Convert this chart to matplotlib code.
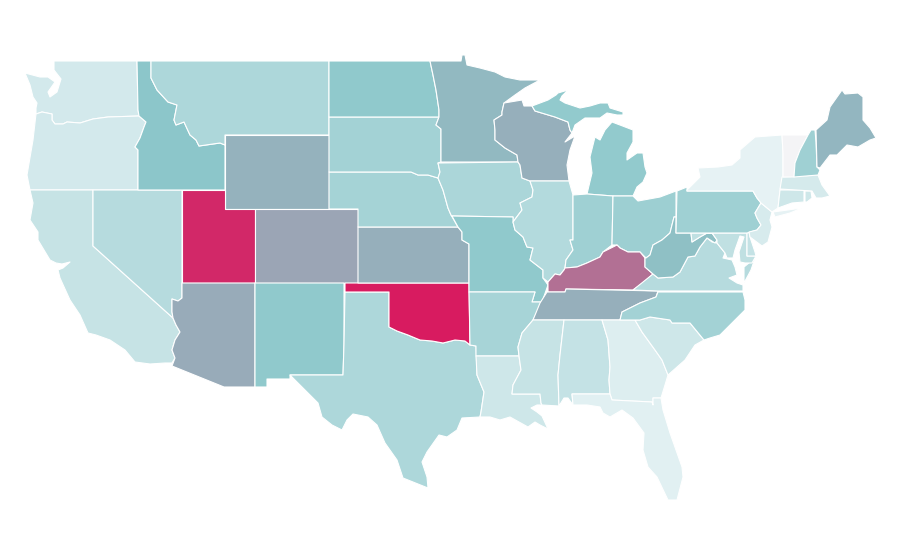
import matplotlib
matplotlib.use('Agg')
import matplotlib.pyplot as plt
from matplotlib.colors import LinearSegmentedColormap, Normalize

# values per state (0-100 scale)
states = ['WA', 'OR', 'CA', 'NV', 'ID', 'MT', 'WY', 'UT', 'CO', 'AZ', 'NM', 'TX', 'OK', 'KS', 'NE', 'SD', 'ND',
          'MN', 'IA', 'MO', 'AR', 'LA', 'WI', 'IL', 'MI', 'IN', 'OH', 'KY', 'TN', 'MS', 'AL', 'GA', 'FL', 'SC',
          'NC', 'VA', 'WV', 'MD', 'DE', 'PA', 'NJ', 'NY', 'CT', 'RI', 'MA', 'VT', 'NH', 'ME']
values = [16, 16, 22, 30, 50, 34, 56, 96, 60, 58, 48, 34, 100, 57, 38, 39, 48,
          54, 35, 48, 37, 18, 57, 31, 47, 41, 42, 75, 57, 22, 23, 11, 9, 18,
          39, 30, 52, 25, 23, 41, 14, 7, 18, 18, 15, 0, 41, 55]

# colour scale: near white through teal to pink
scale_stops = [0, 0.07, 0.5, 1]
scale_colors = ['#f4f4f6', '#e5f2f4', '#8cc7ca', '#d81b60']

# state outlines, in picture pixels
outlines = {
    'WA': [[(54, 61), (137, 61), (138, 110), (139, 116), (108, 117), (93, 119), (80, 123), (67, 122), (63, 124),
            (55, 124), (52, 120), (52, 114), (42, 112), (36, 114), (36, 108), (37, 103), (33, 97), (30, 85), (25, 73),
            (40, 77), (48, 77), (55, 82), (48, 92), (50, 97), (57, 92), (61, 79), (54, 70)]],
    'OR': [[(36, 114), (42, 112), (52, 114), (52, 120), (55, 124), (63, 124), (67, 122), (80, 123), (93, 119),
            (108, 117), (139, 116), (146, 122), (144, 127), (140, 138), (135, 147), (138, 150), (138, 157), (138, 190),
            (30, 190), (27, 175), (33, 140)]],
    'CA': [[(30, 190), (93, 190), (93, 246), (173, 318), (176, 325), (180, 332), (175, 340), (172, 350), (175, 358),
            (172, 363), (165, 363), (150, 364), (135, 362), (125, 350), (110, 340), (96, 335), (88, 333), (80, 315),
            (70, 300), (60, 278), (58, 270), (63, 268), (70, 262), (62, 264), (56, 263), (50, 260), (38, 240), (38, 232),
            (30, 220), (33, 203)]],
    'NV': [[(93, 190), (182, 190), (182, 298), (178, 301), (172, 299), (172, 312), (173, 318), (93, 246)]],
    'ID': [[(137, 61), (151, 61), (151, 78), (157, 90), (168, 102), (177, 105), (174, 120), (176, 125), (184, 122),
            (190, 135), (196, 140), (199, 146), (220, 143), (225, 145), (225, 190), (138, 190), (138, 157), (138, 150),
            (135, 147), (140, 138), (144, 127), (146, 122), (139, 116), (138, 110)]],
    'MT': [[(151, 61), (329, 61), (329, 135), (225, 135), (225, 145), (220, 143), (199, 146), (196, 140), (190, 135),
            (184, 122), (176, 125), (174, 120), (177, 105), (168, 102), (157, 90), (151, 78)]],
    'WY': [[(225, 135), (329, 135), (329, 209), (225, 209)]],
    'UT': [[(182, 190), (225, 190), (225, 209), (255, 209), (255, 283), (182, 283)]],
    'CO': [[(255, 209), (358, 209), (358, 283), (255, 283)]],
    'AZ': [[(182, 283), (255, 283), (255, 387), (224, 387), (172, 366), (175, 358), (172, 350), (175, 340), (180, 332),
            (176, 325), (173, 318), (172, 312), (172, 299), (178, 301), (182, 298)]],
    'NM': [[(255, 283), (344, 283), (344, 344), (343, 375), (290, 375), (290, 379), (267, 379), (267, 387), (255, 387)]],
    'TX': [[(345, 292), (389, 292), (389, 327), (397, 331), (408, 335), (420, 340), (432, 341), (443, 343), (455, 340),
            (465, 341), (470, 345), (476, 346), (477, 375), (484, 392), (481, 412), (480, 417), (462, 418), (457, 430),
            (447, 437), (439, 435), (427, 452), (422, 462), (427, 477), (428, 488), (403, 478), (397, 460), (385, 443),
            (377, 425), (368, 417), (353, 414), (347, 420), (342, 430), (332, 425), (322, 417), (318, 403), (307, 392),
            (295, 380), (290, 375), (343, 375), (344, 344)]],
    'OK': [[(345, 283), (469, 283), (470, 345), (465, 341), (455, 340), (443, 343), (432, 341), (420, 340), (408, 335),
            (397, 331), (389, 327), (389, 292), (345, 292)]],
    'KS': [[(358, 227), (458, 227), (462, 232), (462, 240), (469, 244), (469, 283), (358, 283)]],
    'NE': [[(329, 172), (411, 172), (418, 175), (428, 175), (438, 178), (443, 190), (448, 208), (451, 215), (458, 227),
            (358, 227), (358, 209), (329, 209)]],
    'SD': [[(329, 117), (439, 117), (436, 125), (441, 129), (441, 162), (438, 163), (440, 172), (438, 178), (428, 175),
            (418, 175), (411, 172), (329, 172)]],
    'ND': [[(329, 61), (430, 61), (433, 75), (436, 90), (439, 110), (439, 117), (329, 117)]],
    'MN': [[(430, 61), (461, 61), (462, 55), (465, 55), (467, 65), (480, 68), (495, 72), (505, 77), (520, 80), (540, 80),
            (525, 88), (515, 95), (504, 103), (502, 112), (502, 115), (494, 120), (495, 130), (495, 140), (505, 148),
            (517, 155), (518, 162), (441, 162), (441, 129), (436, 125), (439, 117), (439, 110), (436, 90), (433, 75)]],
    'IA': [[(438, 163), (518, 162), (520, 165), (522, 178), (530, 181), (533, 190), (532, 197), (520, 203), (522, 210),
            (513, 222), (513, 217), (452, 216), (451, 215), (448, 208), (443, 190), (438, 178), (440, 172)]],
    'MO': [[(452, 216), (513, 217), (513, 222), (515, 230), (523, 237), (527, 247), (533, 248), (530, 260), (543, 270),
            (543, 278), (548, 285), (542, 302), (532, 302), (535, 292), (469, 292), (469, 244), (462, 240), (462, 232),
            (458, 227)]],
    'AR': [[(469, 292), (535, 292), (532, 302), (542, 302), (533, 320), (522, 333), (518, 347), (519, 356), (476, 356),
            (476, 346), (470, 345)]],
    'LA': [[(476, 356), (519, 356), (521, 370), (513, 385), (512, 394), (540, 394), (541, 403), (542, 405), (537, 405),
            (531, 408), (537, 412), (542, 416), (548, 429), (540, 425), (535, 422), (528, 427), (510, 417), (500, 420),
            (490, 417), (480, 417), (481, 412), (484, 392), (477, 375)]],
    'WI': [[(504, 103), (522, 100), (524, 106), (532, 106), (535, 111), (555, 117), (568, 122), (570, 130), (572, 133),
            (565, 142), (575, 136), (570, 150), (567, 165), (569, 181), (530, 181), (522, 178), (520, 165), (518, 162),
            (517, 155), (505, 148), (495, 140), (495, 130), (494, 120), (502, 115), (502, 112)]],
    'IL': [[(530, 181), (569, 181), (573, 195), (573, 240), (570, 240), (573, 250), (566, 260), (565, 268), (564, 270),
            (560, 275), (555, 274), (548, 282), (543, 278), (543, 270), (530, 260), (533, 248), (527, 247), (523, 237),
            (515, 230), (513, 222), (522, 210), (520, 203), (532, 197), (533, 190)]],
    'MI': [[(532, 106), (548, 100), (556, 95), (558, 93), (568, 90), (562, 96), (560, 100), (565, 103), (580, 108),
            (590, 106), (600, 103), (608, 103), (610, 108), (623, 112), (623, 115), (617, 115), (607, 113), (600, 118),
            (585, 118), (575, 125), (572, 133), (570, 130), (568, 122), (555, 117), (535, 111)],
           [(600, 140), (605, 130), (612, 122), (620, 125), (633, 130), (633, 142), (627, 153), (627, 160), (637, 153),
            (643, 153), (645, 167), (647, 173), (643, 182), (637, 187), (633, 196), (613, 196), (587, 194), (592, 173),
            (590, 157), (595, 137)]],
    'IN': [[(573, 195), (587, 194), (613, 196), (612, 245), (603, 252), (600, 257), (587, 263), (577, 267), (565, 268),
            (566, 260), (573, 250), (570, 240), (573, 240)]],
    'OH': [[(613, 196), (633, 196), (638, 201), (660, 197), (676, 191), (676, 217), (674, 217), (670, 233), (662, 240),
            (653, 245), (650, 255), (646, 258), (640, 252), (628, 252), (620, 248), (617, 245), (612, 245)]],
    'KY': [[(548, 292), (565, 292), (566, 289), (633, 290), (643, 283), (653, 274), (645, 267), (645, 258), (640, 252),
            (628, 252), (620, 248), (617, 245), (603, 252), (600, 257), (587, 263), (577, 267), (565, 268), (564, 270),
            (560, 275), (555, 274), (548, 282)]],
    'TN': [[(547, 292), (565, 292), (566, 289), (658, 291), (656, 297), (640, 303), (632, 307), (622, 312), (620, 320),
            (533, 320), (540, 303)]],
    'MS': [[(533, 320), (564, 320), (560, 355), (558, 375), (559, 406), (542, 405), (541, 403), (540, 394), (512, 394),
            (513, 385), (521, 370), (519, 356), (518, 347), (522, 333)]],
    'AL': [[(564, 320), (602, 320), (608, 340), (610, 367), (609, 380), (610, 394), (572, 394), (573, 405), (568, 398),
            (564, 398), (559, 406), (558, 375), (560, 355)]],
    'GA': [[(602, 320), (635, 320), (642, 332), (655, 350), (662, 360), (668, 375), (665, 385), (661, 398), (653, 398),
            (653, 405), (652, 402), (612, 400), (610, 394), (609, 380), (610, 367), (608, 340)]],
    'FL': [[(572, 394), (610, 394), (612, 400), (652, 402), (653, 405), (653, 398), (661, 398), (663, 410), (670, 433),
            (682, 467), (683, 477), (677, 500), (668, 500), (657, 477), (648, 467), (643, 450), (644, 433), (633, 418),
            (622, 410), (610, 417), (603, 413), (600, 407), (587, 405), (573, 405)]],
    'SC': [[(635, 320), (640, 320), (650, 317), (670, 320), (672, 323), (690, 323), (704, 340), (695, 345), (685, 360),
            (668, 375), (662, 360), (655, 350), (642, 332)]],
    'NC': [[(620, 320), (622, 312), (632, 307), (640, 303), (656, 297), (658, 292), (743, 292), (745, 300), (745, 310),
            (735, 320), (720, 335), (710, 338), (704, 340), (690, 323), (672, 323), (670, 320), (650, 317), (640, 320),
            (635, 320)]],
    'VA': [[(633, 290), (653, 274), (658, 278), (673, 277), (680, 272), (688, 257), (695, 256), (700, 247), (707, 238),
            (712, 242), (717, 243), (725, 253), (723, 258), (732, 260), (735, 267), (737, 275), (729, 278), (737, 283),
            (743, 285), (743, 291), (658, 291)],
           [(744, 267), (755, 258), (751, 270), (744, 283)]],
    'WV': [[(646, 258), (650, 255), (653, 245), (662, 240), (670, 233), (674, 217), (676, 217), (676, 233), (691, 233),
            (692, 242), (700, 237), (707, 233), (712, 233), (717, 240), (715, 243), (707, 238), (700, 247), (695, 256),
            (688, 257), (680, 272), (673, 277), (658, 278), (653, 274), (645, 267), (645, 258)]],
    'MD': [[(691, 233), (747, 233), (747, 256), (756, 256), (752, 263), (745, 263), (740, 262), (739, 252), (744, 237),
            (740, 236), (735, 250), (733, 258), (727, 258), (725, 253), (717, 243), (717, 240), (712, 233), (707, 233),
            (700, 237), (692, 242)]],
    'DE': [[(747, 233), (749, 232), (750, 237), (755, 252), (756, 256), (747, 256)]],
    'PA': [[(677, 191), (687, 187), (687, 191), (753, 191), (757, 198), (761, 203), (755, 213), (757, 218), (761, 225),
            (757, 230), (747, 233), (676, 233)]],
    'NJ': [[(761, 203), (772, 212), (770, 220), (772, 227), (768, 242), (762, 246), (750, 237), (749, 232), (757, 230),
            (761, 225), (757, 218), (755, 213)]],
    'NY': [[(687, 190), (700, 177), (698, 168), (718, 167), (732, 165), (740, 158), (740, 150), (755, 137), (782, 135),
            (783, 153), (783, 177), (780, 190), (778, 208), (772, 212), (761, 203), (757, 198), (753, 191), (687, 191)],
           [(773, 212), (802, 208), (790, 213), (775, 217)]],
    'CT': [[(780, 190), (804, 190), (804, 202), (792, 203), (778, 208)]],
    'RI': [[(805, 191), (811, 191), (812, 198), (807, 202), (805, 202)]],
    'MA': [[(782, 177), (818, 175), (822, 185), (830, 196), (822, 198), (816, 198), (812, 191), (780, 189)]],
    'VT': [[(782, 135), (808, 135), (800, 150), (795, 163), (794, 177), (783, 177), (783, 153)]],
    'NH': [[(811, 130), (815, 130), (816, 142), (817, 167), (820, 170), (818, 175), (794, 177), (795, 163), (800, 150),
            (808, 135)]],
    'ME': [[(816, 130), (827, 120), (830, 107), (842, 90), (845, 94), (858, 93), (863, 97), (863, 120), (870, 128),
            (876, 138), (870, 140), (858, 147), (847, 145), (837, 155), (830, 155), (820, 168), (817, 167)]],
}

cmap = LinearSegmentedColormap.from_list('scale', list(zip(scale_stops, scale_colors)))
norm = Normalize(0, 100)

fig = plt.figure(figsize=(9, 5.6), dpi=100)
ax = fig.add_axes([0, 0, 1, 1])

for state, value in zip(states, values):
    for part in outlines[state]:
        xs = [p[0] for p in part]
        ys = [p[1] for p in part]
        ax.fill(xs, ys, facecolor=cmap(norm(value)), edgecolor='white', linewidth=0.8, joinstyle='round')

ax.set_xlim(0, 900)
ax.set_ylim(560, 0)
ax.axis('off')

fig.savefig('out.png', dpi=100, facecolor='white')
